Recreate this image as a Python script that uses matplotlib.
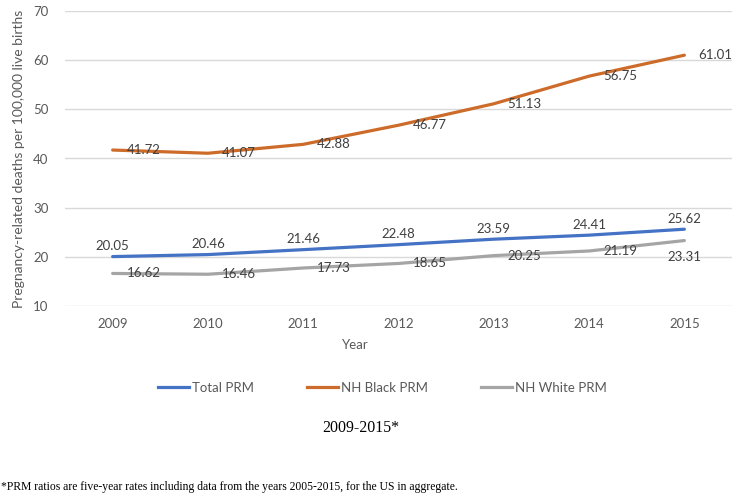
import matplotlib.pyplot as plt
from matplotlib.lines import Line2D

years = ["2009", "2010", "2011", "2012", "2013", "2014", "2015"]
total_prm = [20.05, 20.46, 21.46, 22.48, 23.59, 24.41, 25.62]
black_prm = [41.72, 41.07, 42.88, 46.77, 51.13, 56.75, 61.01]
white_prm = [16.62, 16.46, 17.73, 18.65, 20.25, 21.19, 23.31]

c_total = "#4472C4"
c_black = "#CD6C2A"
c_white = "#A5A5A5"
txt = "#595959"
lab = "#404040"

plt.rcParams['font.family'] = ['Lato', 'DejaVu Sans']

fig = plt.figure(figsize=(7.38, 4.96), dpi=100)
ax = fig.add_axes([65 / 738, 1 - 306 / 496, (732 - 65) / 738, (306 - 11) / 496])

x = list(range(len(years)))
ax.plot(x, total_prm, color=c_total, lw=2.3, solid_capstyle='round', zorder=3)
ax.plot(x, black_prm, color=c_black, lw=2.3, solid_capstyle='round', zorder=3)
ax.plot(x, white_prm, color=c_white, lw=2.3, solid_capstyle='round', zorder=3)

fs = 9.5
# data labels, placed like the Excel defaults (above / right / below)
for i, v in enumerate(total_prm):
    ax.annotate(f"{v:.2f}", (i, v), xytext=(0, 7.5), textcoords='offset points',
                ha='center', va='center', fontsize=fs, color=lab, zorder=4)
for i, v in enumerate(black_prm):
    ax.annotate(f"{v:.2f}", (i, v), xytext=(10, 0), textcoords='offset points',
                ha='left', va='center', fontsize=fs, color=lab, zorder=4)
for i, v in enumerate(white_prm):
    if i == len(white_prm) - 1:
        ax.annotate(f"{v:.2f}", (i, v), xytext=(0, -12), textcoords='offset points',
                    ha='center', va='center', fontsize=fs, color=lab, zorder=4)
    else:
        ax.annotate(f"{v:.2f}", (i, v), xytext=(10, 0), textcoords='offset points',
                    ha='left', va='center', fontsize=fs, color=lab, zorder=4)

ax.set_xlim(-0.5, len(years) - 0.5)
ax.set_ylim(10, 70)
ax.set_yticks(range(10, 71, 10))
ax.set_xticks(x)
ax.set_xticklabels(years)
ax.tick_params(length=0, labelsize=fs, colors=txt, pad=9)
ax.tick_params(axis='y', pad=12)
ax.grid(axis='y', color='#D9D9D9', lw=1)
ax.set_axisbelow(True)
for s in ax.spines.values():
    s.set_visible(False)

ax.set_ylabel("Pregnancy-related deaths per 100,000 live births", fontsize=10, color=txt, labelpad=6)
fig.text(355 / 738, 1 - 345 / 496, "Year", ha='center', va='center', fontsize=fs, color=txt)

handles = [Line2D([], [], color=c_total, lw=2.3),
           Line2D([], [], color=c_black, lw=2.3),
           Line2D([], [], color=c_white, lw=2.3)]
fig.legend(handles, ["Total PRM", "NH Black PRM", "NH White PRM"], loc='center left',
           bbox_to_anchor=(146 / 738, 1 - 388 / 496), ncol=3, frameon=False,
           fontsize=fs, labelcolor=txt, handlelength=2.35, handletextpad=0.25,
           columnspacing=4.0)

fig.text(361 / 738, 1 - 428 / 496, "2009-2015*", ha='center', va='center',
         fontsize=11.4, family='Liberation Serif', color='black')
fig.text(1 / 738, 1 - 487 / 496,
         "*PRM ratios are five-year rates including data from the years 2005-2015, for the US in aggregate.",
         ha='left', va='center', fontsize=8.4, family='Liberation Serif', color='black')

fig.savefig("out.png", dpi=100)
